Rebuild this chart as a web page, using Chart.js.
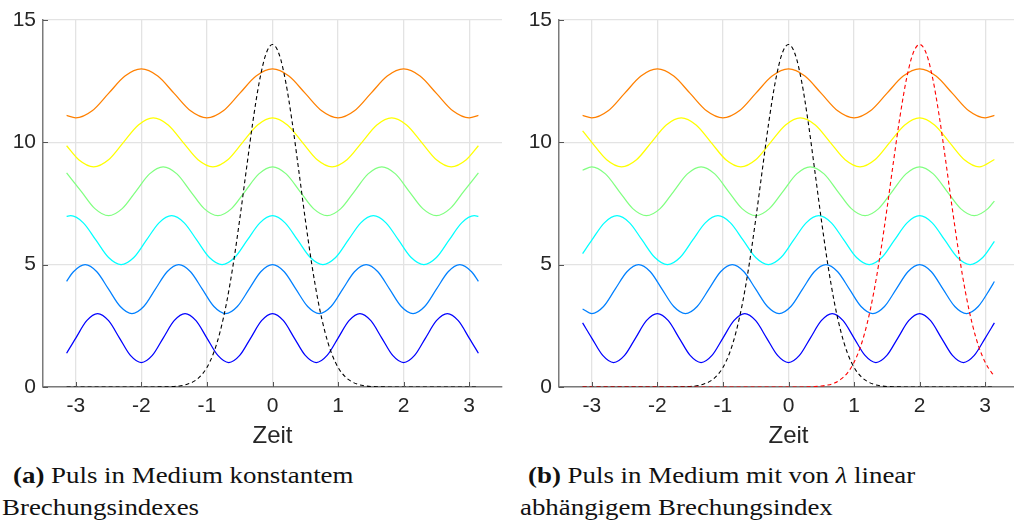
<!DOCTYPE html>
<html><head><meta charset="utf-8">
<script src="https://cdn.jsdelivr.net/npm/chart.js@4"></script>
<style>
html,body{margin:0;padding:0;background:#fff;overflow:hidden;width:1014px;height:523px;position:relative;}
canvas{position:absolute;top:0;}
#c1{left:0;} #c2{left:516px;}
.cap{position:absolute;font-family:"Liberation Serif",serif;font-size:24px;line-height:24px;white-space:nowrap;color:#111;transform-origin:0 0;transform:scaleX(1.12);}
</style></head>
<body>
<canvas id="c1" width="510" height="451"></canvas>
<canvas id="c2" width="510" height="451"></canvas>
<div class="cap" style="left:13px;top:463px"><b>(a)</b> Puls in Medium konstantem</div>
<div class="cap" style="left:2px;top:495px">Brechungsindexes</div>
<div class="cap" style="left:528px;top:463px"><b>(b)</b> Puls in Medium mit von <i>λ</i> linear</div>
<div class="cap" style="left:520px;top:495px">abhängigem Brechungsindex</div>
<script>
// ---- tick labels ----
const xTicks = [-3,-2,-1,0,1,2,3];
const yTicks = [0,5,10,15];
const xLabel = 'Zeit';

// ---- left plot (a) ----
const orangeX = [-3.14,-3,-2.75,-2.5,-2.25,-2,-1.75,-1.5,-1.25,-1,-0.75,-0.5,-0.25,0,0.25,0.5,0.75,1,1.25,1.5,1.75,2,2.25,2.5,2.75,3,3.14];
const orangeY = [11.1,11,11.29,12,12.71,13,12.71,12,11.29,11,11.29,12,12.71,13,12.71,12,11.29,11,11.29,12,12.71,13,12.71,12,11.29,11,11.1];

const yellowX = [-3.14,-2.955,-2.727,-2.5,-2.273,-2.045,-1.818,-1.591,-1.364,-1.136,-0.909,-0.682,-0.455,-0.227,0,0.227,0.455,0.682,0.909,1.136,1.364,1.591,1.818,2.045,2.273,2.5,2.727,2.955,3.14];
const yellowY = [9.86,9.29,9,9.29,10,10.71,11,10.71,10,9.29,9,9.29,10,10.71,11,10.71,10,9.29,9,9.29,10,10.71,11,10.71,10,9.29,9,9.29,9.86];

const greenX = [-3.14,-2.917,-2.708,-2.5,-2.292,-2.083,-1.875,-1.667,-1.458,-1.25,-1.042,-0.833,-0.625,-0.417,-0.208,0,0.208,0.417,0.625,0.833,1.042,1.25,1.458,1.667,1.875,2.083,2.292,2.5,2.708,2.917,3.14];
const greenY = [8.75,8,7.29,7,7.29,8,8.71,9,8.71,8,7.29,7,7.29,8,8.71,9,8.71,8,7.29,7,7.29,8,8.71,9,8.71,8,7.29,7,7.29,8,8.75];

const cyanX = [-3.14,-3.077,-2.885,-2.692,-2.5,-2.308,-2.115,-1.923,-1.731,-1.538,-1.346,-1.154,-0.962,-0.769,-0.577,-0.385,-0.192,0,0.192,0.385,0.577,0.769,0.962,1.154,1.346,1.538,1.731,1.923,2.115,2.308,2.5,2.692,2.885,3.077,3.14];
const cyanY = [6.97,7,6.71,6,5.29,5,5.29,6,6.71,7,6.71,6,5.29,5,5.29,6,6.71,7,6.71,6,5.29,5,5.29,6,6.71,7,6.71,6,5.29,5,5.29,6,6.71,7,6.97];

const lblueX = [-3.14,-3.036,-2.857,-2.679,-2.5,-2.321,-2.143,-1.964,-1.786,-1.607,-1.429,-1.25,-1.071,-0.893,-0.714,-0.536,-0.357,-0.179,0,0.179,0.357,0.536,0.714,0.893,1.071,1.25,1.429,1.607,1.786,1.964,2.143,2.321,2.5,2.679,2.857,3.036,3.14];
const lblueY = [4.32,4.71,5,4.71,4,3.29,3,3.29,4,4.71,5,4.71,4,3.29,3,3.29,4,4.71,5,4.71,4,3.29,3,3.29,4,4.71,5,4.71,4,3.29,3,3.29,4,4.71,5,4.71,4.32];

const blueX = [-3.14,-3,-2.833,-2.667,-2.5,-2.333,-2.167,-2,-1.833,-1.667,-1.5,-1.333,-1.167,-1,-0.833,-0.667,-0.5,-0.333,-0.167,0,0.167,0.333,0.5,0.667,0.833,1,1.167,1.333,1.5,1.667,1.833,2,2.167,2.333,2.5,2.667,2.833,3,3.14];
const blueY = [1.38,2,2.71,3,2.71,2,1.29,1,1.29,2,2.71,3,2.71,2,1.29,1,1.29,2,2.71,3,2.71,2,1.29,1,1.29,2,2.71,3,2.71,2,1.29,1,1.29,2,2.71,3,2.71,2,1.38];

const pulseX = [-3.14,-2.5,-2,-1.6,-1.5,-1.4,-1.3,-1.2,-1.1,-1,-0.9,-0.8,-0.7,-0.6,-0.5,-0.4,-0.3,-0.2,-0.1,0,0.1,0.2,0.3,0.4,0.5,0.6,0.7,0.8,0.9,1,1.1,1.2,1.3,1.4,1.5,1.6,2,2.5,3.14];
const pulseY = [0,0,0,0.01,0.02,0.05,0.11,0.23,0.44,0.8,1.38,2.25,3.45,5,6.85,8.86,10.83,12.49,13.61,14,13.61,12.49,10.83,8.86,6.85,5,3.45,2.25,1.38,0.8,0.44,0.23,0.11,0.05,0.02,0.01,0,0,0];

// ---- right plot (b) ----
const yellowRX = [-3.14,-3,-2.773,-2.545,-2.318,-2.091,-1.864,-1.636,-1.409,-1.182,-0.955,-0.727,-0.5,-0.273,-0.045,0.182,0.409,0.636,0.864,1.091,1.318,1.545,1.773,2,2.227,2.455,2.682,2.909,3.14];
const yellowRY = [10.47,10,9.29,9,9.29,10,10.71,11,10.71,10,9.29,9,9.29,10,10.71,11,10.71,10,9.29,9,9.29,10,10.71,11,10.71,10,9.29,9,9.3];

const greenRX = [-3.14,-3,-2.792,-2.583,-2.375,-2.167,-1.958,-1.75,-1.542,-1.333,-1.125,-0.917,-0.708,-0.5,-0.292,-0.083,0.125,0.333,0.542,0.75,0.958,1.167,1.375,1.583,1.792,2,2.208,2.417,2.625,2.833,3.042,3.14];
const greenRY = [8.86,9,8.71,8,7.29,7,7.29,8,8.71,9,8.71,8,7.29,7,7.29,8,8.71,9,8.71,8,7.29,7,7.29,8,8.71,9,8.71,8,7.29,7,7.29,7.6];

const cyanRX = [-3.14,-3,-2.808,-2.615,-2.423,-2.231,-2.038,-1.846,-1.654,-1.462,-1.269,-1.077,-0.885,-0.692,-0.5,-0.308,-0.115,0.077,0.269,0.462,0.654,0.846,1.038,1.231,1.423,1.615,1.808,2,2.192,2.385,2.577,2.769,2.962,3.14];
const cyanRY = [5.45,6,6.71,7,6.71,6,5.29,5,5.29,6,6.71,7,6.71,6,5.29,5,5.29,6,6.71,7,6.71,6,5.29,5,5.29,6,6.71,7,6.71,6,5.29,5,5.29,5.95];

const lblueRX = [-3.14,-3,-2.821,-2.643,-2.464,-2.286,-2.107,-1.929,-1.75,-1.571,-1.393,-1.214,-1.036,-0.857,-0.679,-0.5,-0.321,-0.143,0.036,0.214,0.393,0.571,0.75,0.929,1.107,1.286,1.464,1.643,1.821,2,2.179,2.357,2.536,2.714,2.893,3.071,3.14];
const lblueRY = [3.19,3,3.29,4,4.71,5,4.71,4,3.29,3,3.29,4,4.71,5,4.71,4,3.29,3,3.29,4,4.71,5,4.71,4,3.29,3,3.29,4,4.71,5,4.71,4,3.29,3,3.29,4,4.31];

const blueRX = [-3.14,-3,-2.833,-2.667,-2.5,-2.333,-2.167,-2,-1.833,-1.667,-1.5,-1.333,-1.167,-1,-0.833,-0.667,-0.5,-0.333,-0.167,0,0.167,0.333,0.5,0.667,0.833,1,1.167,1.333,1.5,1.667,1.833,2,2.167,2.333,2.5,2.667,2.833,3,3.14];
const blueRY = [2.62,2,1.29,1,1.29,2,2.71,3,2.71,2,1.29,1,1.29,2,2.71,3,2.71,2,1.29,1,1.29,2,2.71,3,2.71,2,1.29,1,1.29,2,2.71,3,2.71,2,1.29,1,1.29,2,2.62];

const redX = [-3.14,-2,-1,0,0.2,0.4,0.5,0.6,0.7,0.8,0.9,1,1.1,1.2,1.3,1.4,1.5,1.6,1.7,1.8,1.9,2,2.1,2.2,2.3,2.4,2.5,2.6,2.7,2.8,2.9,3,3.1,3.14];
const redY = [0,0,0,0,0,0.02,0.04,0.08,0.16,0.32,0.58,1.01,1.66,2.6,3.86,5.43,7.25,9.19,11.05,12.6,13.64,14,13.64,12.6,11.05,9.19,7.25,5.43,3.86,2.6,1.66,1.01,0.58,0.46];

// ---- styling ----
const FONT = '"Liberation Sans", Arial, sans-serif';
const TXT = '#262626';
Chart.defaults.font.family = FONT;

function pts(xs, ys){ return xs.map((x,i)=>({x:x, y:ys[i]})); }
function line(xs, ys, color, dash){
  return {data: pts(xs, ys), borderColor: color, backgroundColor: color, borderWidth: dash ? 1.1 : 1.25,
    borderDash: dash ? [4,3] : [], pointRadius: 0, showLine: true, fill: false,
    cubicInterpolationMode: 'monotone'};
}

const inwardTicks = {
  id: 'inwardTicks',
  afterDatasetsDraw(chart){
    const {ctx, chartArea: a, scales: {x, y}} = chart;
    ctx.save();
    ctx.strokeStyle = '#555';
    ctx.lineWidth = 1;
    ctx.beginPath();
    xTicks.forEach(v => { const p = Math.round(x.getPixelForValue(v)) + 0.5; ctx.moveTo(p, a.bottom); ctx.lineTo(p, a.bottom - 5); });
    yTicks.forEach(v => { const p = Math.round(y.getPixelForValue(v)) + 0.5; ctx.moveTo(a.left, p); ctx.lineTo(a.left + 5, p); });
    ctx.stroke();
    ctx.restore();
  }
};

function makeChart(id, datasets){
  return new Chart(document.getElementById(id), {
    type: 'scatter',
    data: {datasets: datasets},
    plugins: [inwardTicks],
    options: {
      responsive: false, animation: false, devicePixelRatio: 1,
      layout: {padding: {top: 20, right: 8, left: 0, bottom: 0}},
      plugins: {legend: {display: false}, tooltip: {enabled: false}},
      scales: {
        x: {
          type: 'linear', min: -3.5, max: 3.5,
          afterBuildTicks: s => { s.ticks = xTicks.map(v => ({value: v})); },
          afterFit: s => { s.height = 64; },
          grid: {color: '#e3e3e3', lineWidth: 1.3, drawTicks: false},
          border: {display: true, color: '#7a7a7a', width: 1.5},
          ticks: {color: TXT, font: {family: FONT, size: 21}, padding: 7, maxRotation: 0, autoSkip: false, callback: v => String(v)},
          title: {display: true, text: xLabel, color: TXT, font: {family: FONT, size: 24}, padding: 0}
        },
        y: {
          type: 'linear', min: 0, max: 15,
          afterBuildTicks: s => { s.ticks = yTicks.map(v => ({value: v})); },
          afterFit: s => { s.width = 43; },
          grid: {color: '#e3e3e3', lineWidth: 1.3, drawTicks: false},
          border: {display: true, color: '#7a7a7a', width: 1.5},
          ticks: {color: TXT, font: {family: FONT, size: 21}, padding: 7, callback: v => String(v)}
        }
      }
    }
  });
}

makeChart('c1', [
  line(pulseX, pulseY, '#000000', true),
  line(orangeX, orangeY, '#ff8000'),
  line(yellowX, yellowY, '#ffff00'),
  line(greenX, greenY, '#80ff80'),
  line(cyanX, cyanY, '#00ffff'),
  line(lblueX, lblueY, '#0080ff'),
  line(blueX, blueY, '#0000ff')
]);

makeChart('c2', [
  line(redX, redY, '#ff0000', true),
  line(pulseX, pulseY, '#000000', true),
  line(orangeX, orangeY, '#ff8000'),
  line(yellowRX, yellowRY, '#ffff00'),
  line(greenRX, greenRY, '#80ff80'),
  line(cyanRX, cyanRY, '#00ffff'),
  line(lblueRX, lblueRY, '#0080ff'),
  line(blueRX, blueRY, '#0000ff')
]);
</script>
</body></html>
